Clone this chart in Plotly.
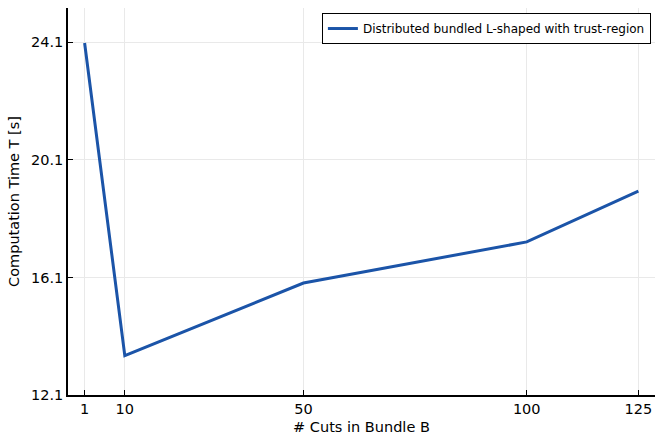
import plotly.graph_objects as go

# Bundle size B vs. computation time
cuts_in_bundle = [1, 10, 50, 100, 125]
computation_time = [24.08, 13.44, 15.91, 17.31, 19.04]

x_ticks = [1, 10, 50, 100, 125]
y_ticks = [12.1, 16.1, 20.1, 24.1]
y_tick_labels = ["12.1", "16.1", "20.1", "24.1"]

series_name = "Distributed bundled L-shaped with trust-region"
line_color = "rgb(27,84,168)"
font_family = "DejaVu Sans"

fig = go.Figure()
fig.add_trace(go.Scatter(
    x=cuts_in_bundle,
    y=computation_time,
    mode="lines",
    name=series_name,
    line=dict(color=line_color, width=3),
))

axis_common = dict(
    showline=True,
    linecolor="black",
    linewidth=1.5,
    mirror=False,
    ticks="inside",
    ticklen=5,
    tickcolor="black",
    showgrid=True,
    gridcolor="rgb(233,233,233)",
    gridwidth=1,
    zeroline=False,
    tickfont=dict(family=font_family, size=14.5, color="black"),
)

fig.update_layout(
    width=657,
    height=435,
    margin=dict(l=68, r=2, t=8, b=40),
    paper_bgcolor="white",
    plot_bgcolor="white",
    font=dict(family=font_family, color="black"),
    showlegend=True,
    legend=dict(
        x=0.993, y=0.987, xanchor="right", yanchor="top",
        bordercolor="black", borderwidth=1,
        bgcolor="white",
        font=dict(family=font_family, size=12, color="black"),
        itemwidth=30,
    ),
    xaxis=dict(
        **axis_common,
        range=[-2.72, 128.72],
        tickmode="array",
        tickvals=x_ticks,
        ticktext=[str(v) for v in x_ticks],
        title=dict(text="# Cuts in Bundle B", font=dict(family=font_family, size=14.5), standoff=6),
    ),
    yaxis=dict(
        **axis_common,
        range=[12.1, 25.27],
        tickmode="array",
        tickvals=y_ticks,
        ticktext=y_tick_labels,
        title=dict(text="Computation Time T [s]", font=dict(family=font_family, size=14.5), standoff=8),
    ),
)

fig.write_html("out.html")
